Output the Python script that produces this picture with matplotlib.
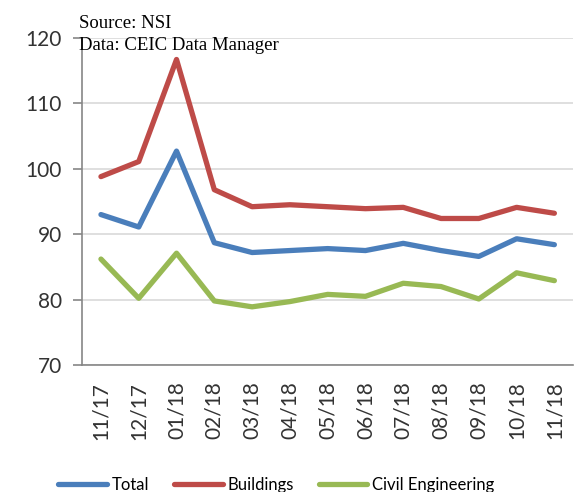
import matplotlib
matplotlib.use('Agg')
import matplotlib.pyplot as plt
import numpy as np

months = ['11/17', '12/17', '01/18', '02/18', '03/18', '04/18', '05/18',
          '06/18', '07/18', '08/18', '09/18', '10/18', '11/18']
total = [93.0, 91.1, 102.7, 88.7, 87.2, 87.5, 87.8, 87.5, 88.6, 87.5, 86.6, 89.3, 88.4]
buildings = [98.8, 101.1, 116.7, 96.8, 94.2, 94.5, 94.2, 93.9, 94.1, 92.4, 92.4, 94.1, 93.2]
civil = [86.2, 80.2, 87.1, 79.8, 78.9, 79.7, 80.8, 80.5, 82.5, 82.0, 80.1, 84.1, 82.9]

plt.rcParams['font.family'] = ['Lato', 'DejaVu Sans']

fig = plt.figure(figsize=(5.82, 4.92), dpi=100)
ax = fig.add_axes([0.141, 0.258, 0.844, 0.665])

x = np.arange(len(months))
ax.plot(x, total, color='#4A7EBB', lw=3.8, label='Total', solid_capstyle='round', solid_joinstyle='round')
ax.plot(x, buildings, color='#BE4B48', lw=3.8, label='Buildings', solid_capstyle='round', solid_joinstyle='round')
ax.plot(x, civil, color='#98B954', lw=3.8, label='Civil Engineering', solid_capstyle='round', solid_joinstyle='round')

ax.set_xlim(-0.5, len(months) - 0.5)
ax.set_ylim(70, 120)
ax.set_yticks([70, 80, 90, 100, 110, 120])
ax.set_xticks(x)
ax.set_xticklabels(months, rotation=90, fontsize=15, color='#333333')
ax.tick_params(axis='y', labelsize=15, length=6.5, width=1.2, direction='out', pad=8,
               colors='#868686', labelcolor='#333333')
ax.tick_params(axis='x', length=0, pad=12)
ax.yaxis.grid(True, color='#D9D9D9', lw=1.2)
ax.set_axisbelow(True)
for s in ['top', 'right']:
    ax.spines[s].set_visible(False)
ax.spines['left'].set_color('#868686')
ax.spines['bottom'].set_color('#868686')
ax.spines['left'].set_linewidth(1.2)
ax.spines['bottom'].set_linewidth(1.2)

# source lines in the top left corner
fig.text(0.136, 1 - 23 / 492, 'Source: NSI', family='Liberation Serif', fontsize=13.5, va='center')
fig.text(0.136, 1 - 46 / 492, 'Data: CEIC Data Manager', family='Liberation Serif', fontsize=13.5, va='center')

fig.legend(loc='center', bbox_to_anchor=(0.475, 1 - 485 / 492), ncol=3, frameon=False,
           fontsize=12, handlelength=2.9, columnspacing=1.5, handletextpad=0.3)

fig.savefig('out.png', dpi=100)
